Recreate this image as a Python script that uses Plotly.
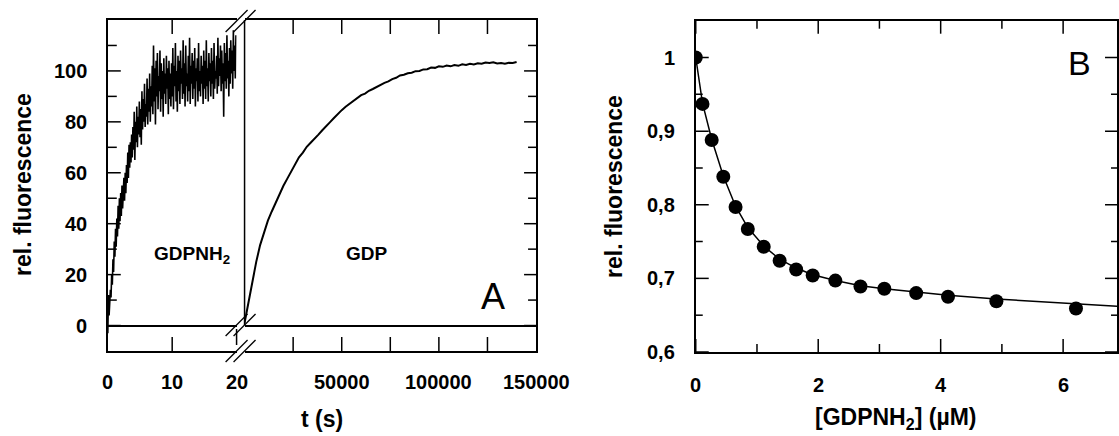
import numpy as np
import plotly.graph_objects as go

# ---------------- DATA ----------------
# Panel A, GDPNH2 trace (t in s, sampled every 0.1 s from 0 to 19.9 s)
gdpnh2_t0, gdpnh2_dt = 0.0, 0.1
gdpnh2_f = [
    -3, 12, 4, 9, 14, 11, 20, 16, 26, 21,
    33, 27, 38, 31, 42, 35, 47, 38, 50, 41,
    52, 43, 55, 46, 51, 58, 49, 60, 52, 63,
    56, 68, 58, 71, 62, 72, 64, 75, 66, 78,
    69, 84, 65, 80, 72, 86, 70, 82, 75, 88,
    74, 85, 71, 92, 77, 89, 80, 95, 78, 87,
    82, 97, 79, 93, 84, 99, 80, 94, 86, 102,
    83, 110, 88, 101, 79, 104, 90, 107, 85, 98,
    92, 108, 84, 103, 89, 100, 82, 105, 91, 99,
    87, 106, 93, 101, 83, 104, 89, 99, 86, 103,
    90, 109, 85, 102, 94, 111, 88, 100, 84, 106,
    92, 104, 87, 108, 95, 101, 89, 112, 91, 103,
    86, 110, 94, 99, 88, 106, 92, 113, 87, 102,
    95, 107, 89, 104, 93, 109, 86, 101, 96, 105,
    88, 111, 92, 100, 90, 106, 95, 102, 87, 108,
    93, 104, 89, 112, 94, 101, 88, 107, 96, 103,
    90, 109, 95, 104, 89, 111, 93, 100, 97, 106,
    91, 113, 94, 105, 98, 110, 92, 108, 95, 103,
    82, 111, 96, 107, 93, 114, 97, 104, 90, 109,
    95, 112, 99, 108, 93, 116, 100, 110, 97, 114,
]
gdpnh2_t = [round(gdpnh2_t0 + i * gdpnh2_dt, 2) for i in range(len(gdpnh2_f))]

# Panel A, GDP trace (t in s, every 2000 s)
gdp_t0, gdp_dt = 0, 2000
gdp_f = [
    1.0, 9.5, 17.6, 25.0, 31.6, 36.7, 41.2, 44.8, 48.4, 51.6,
    54.9, 57.7, 60.7, 63.3, 66.1, 67.9, 70.2, 71.8, 73.6, 75.0,
    76.7, 78.1, 79.9, 81.5, 83.2, 84.6, 85.9, 87.0, 88.3, 89.4,
    90.5, 91.1, 92.2, 92.9, 93.8, 94.4, 95.3, 95.9, 96.8, 97.3,
    98.2, 98.5, 99.1, 99.3, 99.9, 100.0, 100.6, 100.7, 101.3, 101.2,
    101.8, 101.6, 102.1, 101.8, 102.3, 102.0, 102.6, 102.3, 102.8, 102.5,
    103.0, 102.8, 103.3, 103.1, 103.4, 102.9, 103.1, 102.8, 103.2, 103.1,
    103.5,
]
gdp_t = [gdp_t0 + i * gdp_dt for i in range(len(gdp_f))]

# Panel B, titration points
conc = [0.0, 0.11, 0.26, 0.45, 0.65, 0.85, 1.11, 1.37, 1.64, 1.91,
        2.28, 2.69, 3.08, 3.60, 4.12, 4.91, 6.21]
rel_f = [1.000, 0.937, 0.888, 0.838, 0.797, 0.767, 0.743, 0.724, 0.712, 0.704,
         0.697, 0.689, 0.686, 0.680, 0.675, 0.669, 0.659]
# Panel B, fitted curve
fit_x = [0.0, 0.11, 0.26, 0.45, 0.65, 0.85, 1.11, 1.37, 1.64, 1.91,
         2.28, 2.69, 3.08, 3.60, 4.12, 4.91, 6.21, 6.88]
fit_y = [1.000, 0.938, 0.889, 0.839, 0.798, 0.769, 0.744, 0.726, 0.714, 0.705,
         0.697, 0.690, 0.686, 0.681, 0.677, 0.672, 0.665, 0.662]

# Axis ticks / labels
a_left_ticks = [10]
a_left_labels = {0: "0", 10: "10", 20: "20"}
a_right_ticks = [25000, 50000, 75000, 100000, 125000]
a_right_labels = {50000: "50000", 100000: "100000", 150000: "150000"}
a_y_major = [0, 20, 40, 60, 80, 100]
a_y_minor = [10, 30, 50, 70, 90, 110]
b_x_major = [0, 2, 4, 6]
b_x_minor = [1, 3, 5]
b_y_major = [0.6, 0.7, 0.8, 0.9, 1.0]
b_y_labels = ["0,6", "0,7", "0,8", "0,9", "1"]
b_y_minor = [0.65, 0.75, 0.85, 0.95]

# ---------------- LAYOUT ----------------
W, H = 1119, 436
def PX(x): return x / W
def PY(y): return 1 - y / H

FONT = "Liberation Sans, Arial, sans-serif"
BLK = "black"
LW = 1.5

# panel geometry (pixels)
A_L, A_BRK_L, A_BRK_R, A_R = 108, 237, 245, 537
A_T, A_B = 20, 351
B_L, B_T, B_B = 697, 20.7, 352

fig = go.Figure()
fig.add_trace(go.Scatter(x=gdpnh2_t, y=gdpnh2_f, mode="lines",
                         line=dict(color=BLK, width=1.6), xaxis="x", yaxis="y"))
fig.add_trace(go.Scatter(x=gdp_t, y=gdp_f, mode="lines",
                         line=dict(color=BLK, width=2), xaxis="x2", yaxis="y2"))
fig.add_trace(go.Scatter(x=fit_x, y=fit_y, mode="lines",
                         line=dict(color=BLK, width=1.5), xaxis="x3", yaxis="y3"))
fig.add_trace(go.Scatter(x=conc, y=rel_f, mode="markers",
                         marker=dict(color=BLK, size=14), xaxis="x3", yaxis="y3"))

common = dict(showline=True, linecolor=BLK, linewidth=LW, ticks="",
              showticklabels=False, showgrid=False, zeroline=False)

fig.update_layout(
    width=W, height=H, autosize=False,
    margin=dict(l=0, r=0, t=0, b=0),
    paper_bgcolor="white", plot_bgcolor="white", showlegend=False,
    xaxis=dict(domain=[PX(A_L), PX(A_BRK_L)], range=[0, 20], anchor="y",
               mirror=True, **common),
    xaxis2=dict(domain=[PX(A_BRK_R), PX(A_R)], range=[0, 150000], anchor="y",
                mirror=True, **common),
    yaxis=dict(domain=[PY(A_B), PY(A_T)], range=[-10, 120], anchor="x",
               side="left", **{**common, "zeroline": True},
               zerolinecolor=BLK, zerolinewidth=LW),
    yaxis2=dict(range=[-10, 120], anchor="x2", overlaying="y", side="right",
                **{**common, "zeroline": True},
                zerolinecolor=BLK, zerolinewidth=LW),
    xaxis3=dict(domain=[PX(B_L), 1.0], range=[0, 6.88], anchor="y3",
                mirror=True, **common),
    yaxis3=dict(domain=[PY(B_B), PY(B_T)], range=[0.6, 1.05], anchor="x3",
                mirror=True, **common),
)

shapes = []
def tick_line(**kw):
    d = dict(type="line", line=dict(color=BLK, width=LW), layer="above")
    d.update(kw)
    shapes.append(d)

def x_ticks(xref, ydom, vals, length, dom_px):
    f = length / dom_px
    for v in vals:
        tick_line(xref=xref, yref=ydom + " domain", x0=v, x1=v, y0=0, y1=f)
        tick_line(xref=xref, yref=ydom + " domain", x0=v, x1=v, y0=1, y1=1 - f)

def y_ticks(yref, xdom, vals, length, dom_px, side):
    f = length / dom_px
    for v in vals:
        if side == "left":
            tick_line(xref=xdom + " domain", yref=yref, x0=0, x1=f, y0=v, y1=v)
        else:
            tick_line(xref=xdom + " domain", yref=yref, x0=1, x1=1 - f, y0=v, y1=v)

A_H = A_B - A_T
B_H = B_B - B_T
# panel A
x_ticks("x", "y", a_left_ticks, 14, A_H)
x_ticks("x2", "y", a_right_ticks, 14, A_H)
y_ticks("y", "x", a_y_major, 13, A_BRK_L - A_L, "left")
y_ticks("y", "x", a_y_minor, 9, A_BRK_L - A_L, "left")
y_ticks("y", "x2", a_y_major, 12, A_R - A_BRK_R, "right")
y_ticks("y", "x2", a_y_minor, 8, A_R - A_BRK_R, "right")
# panel B
x_ticks("x3", "y3", b_x_major, 13, B_H)
x_ticks("x3", "y3", b_x_minor, 8, B_H)
y_ticks("y3", "x3", b_y_major, 13, W - B_L, "left")
y_ticks("y3", "x3", b_y_minor, 7, W - B_L, "left")
y_ticks("y3", "x3", b_y_major, 12, W - B_L, "right")
y_ticks("y3", "x3", b_y_minor, 6, W - B_L, "right")

# separator line at start of right sub-panel of A
shapes.append(dict(type="line", xref="paper", yref="paper",
                   x0=PX(A_BRK_R), x1=PX(A_BRK_R), y0=PY(325), y1=PY(A_T),
                   line=dict(color=BLK, width=LW)))
# short edge of left sub-panel near the bottom
shapes.append(dict(type="line", xref="paper", yref="paper",
                   x0=PX(A_BRK_L), x1=PX(A_BRK_L), y0=PY(345), y1=PY(329),
                   line=dict(color=BLK, width=LW)))
# break marks
for cy in (21, 325, 351):
    for dx in (-4, 4):
        cx = 241 + dx
        shapes.append(dict(type="line", xref="paper", yref="paper",
                           x0=PX(cx - 11), y0=PY(cy + 11),
                           x1=PX(cx + 11), y1=PY(cy - 11),
                           line=dict(color=BLK, width=1.3)))
fig.update_layout(shapes=shapes)

TICK_FS = 20
def ann(text, x, y, size, bold=True, angle=0, xref="paper", yref="paper",
        xanchor="center"):
    return dict(text=(f"<b>{text}</b>" if bold else text),
                x=x, y=y, xref=xref, yref=yref, showarrow=False,
                textangle=angle, xanchor=xanchor, yanchor="middle",
                font=dict(family=FONT, size=size, color=BLK))

anns = []
# tick labels
for v, t in a_left_labels.items():
    anns.append(ann(t, v, PY(382), TICK_FS, xref="x"))
for v, t in a_right_labels.items():
    anns.append(ann(t, v, PY(382), TICK_FS, xref="x2"))
for v in a_y_major:
    anns.append(ann(str(v), PX(89), v, TICK_FS, yref="y", xanchor="right"))
for v in b_x_major:
    anns.append(ann(str(v), v, PY(385), TICK_FS, xref="x3"))
for v, t in zip(b_y_major, b_y_labels):
    anns.append(ann(t, PX(678), v, TICK_FS, yref="y3", xanchor="right"))
# titles and labels
anns += [
    ann("rel. fluorescence", PX(23), PY(184), 23, angle=-90),
    ann("t (s)", PX(323), PY(419), 23),
    ann("GDPNH<sub>2</sub>", PX(192), PY(255), 19),
    ann("GDP", PX(368), PY(253), 19),
    ann("A", PX(494), PY(296), 36, bold=False),
    ann("rel. fluorescence", PX(615), PY(186), 23, angle=-90),
    ann("[GDPNH<sub>2</sub>] (µM)", PX(897), PY(418), 23),
    ann("B", PX(1081), PY(63), 34, bold=False),
]
fig.update_layout(annotations=anns)

fig.write_html("out.html",
               config={"displayModeBar": False},
               post_script="document.body.style.margin='0px';"
                           "document.body.style.overflow='hidden';")
